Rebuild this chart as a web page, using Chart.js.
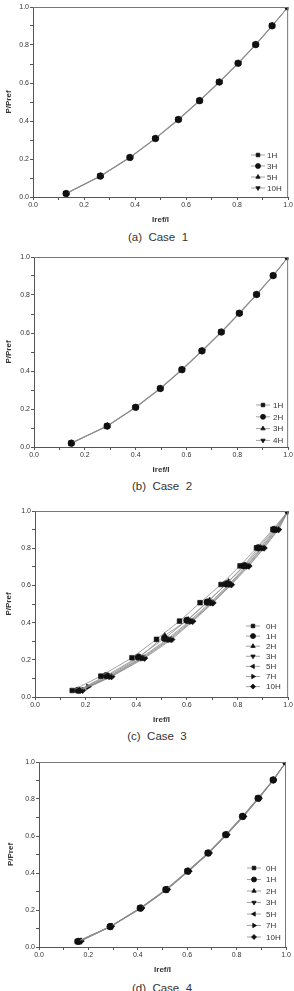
<!DOCTYPE html>
<html>
<head>
<meta charset="utf-8">
<script src="https://cdn.jsdelivr.net/npm/chart.js@4/dist/chart.umd.min.js"></script>
<style>
  body { margin: 0; background: #fff; width: 294px; height: 991px; overflow: hidden; position: relative; font-family: "Liberation Sans", Arial, sans-serif; }
  .panel { position: absolute; left: 0; }
  .caption { position: absolute; width: 130px; text-align: center; font-size: 11.5px; color: #333; line-height: 13px; }
</style>
</head>
<body>
<div class="panel" style="top:0px"><canvas id="c1" width="294" height="230"></canvas></div>
<div class="caption" style="top:231px;left:93px">(a)&nbsp; Case&nbsp; 1</div>
<div class="panel" style="top:250px"><canvas id="c2" width="294" height="230"></canvas></div>
<div class="caption" style="top:480px;left:97px">(b)&nbsp; Case&nbsp; 2</div>
<div class="panel" style="top:504px"><canvas id="c3" width="294" height="226"></canvas></div>
<div class="caption" style="top:730px;left:92px">(c)&nbsp; Case&nbsp; 3</div>
<div class="panel" style="top:755px"><canvas id="c4" width="294" height="225"></canvas></div>
<div class="caption" style="top:982px;left:97px">(d)&nbsp; Case&nbsp; 4</div>
<script>
// Case 1
const case1Labels = ['1H', '3H', '5H', '10H'];
const case1X = [
    [0.128, 0.262, 0.378, 0.478, 0.568, 0.651, 0.728, 0.802, 0.871, 0.936, 1.0],
    [0.130, 0.264, 0.380, 0.480, 0.570, 0.653, 0.730, 0.804, 0.873, 0.937, 1.0],
    [0.131, 0.266, 0.381, 0.481, 0.571, 0.654, 0.731, 0.805, 0.874, 0.938, 1.0],
    [0.133, 0.267, 0.383, 0.482, 0.572, 0.655, 0.732, 0.806, 0.874, 0.938, 1.0]
];
const case1Y = [
    [0.018, 0.110, 0.208, 0.308, 0.408, 0.507, 0.605, 0.704, 0.802, 0.901, 1.0],
    [0.018, 0.110, 0.208, 0.308, 0.408, 0.507, 0.605, 0.704, 0.802, 0.901, 1.0],
    [0.019, 0.111, 0.209, 0.309, 0.408, 0.507, 0.605, 0.704, 0.802, 0.901, 1.0],
    [0.019, 0.111, 0.209, 0.309, 0.408, 0.507, 0.605, 0.704, 0.802, 0.901, 1.0]
];

// Case 2
const case2Labels = ['1H', '2H', '3H', '4H'];
const case2X = [
    [0.145, 0.286, 0.398, 0.495, 0.580, 0.659, 0.735, 0.806, 0.874, 0.940, 1.0],
    [0.147, 0.288, 0.400, 0.497, 0.582, 0.661, 0.737, 0.808, 0.876, 0.941, 1.0],
    [0.148, 0.289, 0.401, 0.498, 0.583, 0.662, 0.738, 0.809, 0.877, 0.942, 1.0],
    [0.150, 0.290, 0.402, 0.499, 0.584, 0.663, 0.739, 0.810, 0.877, 0.942, 1.0]
];
const case2Y = [
    [0.020, 0.110, 0.209, 0.308, 0.407, 0.506, 0.605, 0.704, 0.803, 0.902, 1.0],
    [0.020, 0.110, 0.209, 0.308, 0.407, 0.506, 0.605, 0.704, 0.803, 0.902, 1.0],
    [0.021, 0.111, 0.209, 0.308, 0.407, 0.506, 0.605, 0.704, 0.803, 0.902, 1.0],
    [0.021, 0.111, 0.209, 0.308, 0.407, 0.506, 0.605, 0.704, 0.803, 0.902, 1.0]
];

// Case 3
const case3Labels = ['0H', '1H', '2H', '3H', '5H', '7H', '10H'];
const case3X = [
    [0.147, 0.260, 0.383, 0.480, 0.571, 0.652, 0.735, 0.810, 0.875, 0.940, 1.0],
    [0.170, 0.282, 0.408, 0.512, 0.600, 0.680, 0.755, 0.825, 0.882, 0.945, 1.0],
    [0.175, 0.287, 0.412, 0.512, 0.605, 0.690, 0.765, 0.830, 0.890, 0.950, 1.0],
    [0.178, 0.292, 0.418, 0.522, 0.610, 0.692, 0.766, 0.835, 0.895, 0.953, 1.0],
    [0.182, 0.296, 0.423, 0.528, 0.615, 0.697, 0.770, 0.838, 0.898, 0.956, 1.0],
    [0.210, 0.300, 0.428, 0.533, 0.620, 0.700, 0.773, 0.842, 0.902, 0.960, 1.0],
    [0.188, 0.303, 0.433, 0.540, 0.623, 0.703, 0.776, 0.845, 0.905, 0.962, 1.0]
];
const case3Y = [
    [0.035, 0.112, 0.211, 0.310, 0.408, 0.507, 0.605, 0.705, 0.802, 0.901, 1.0],
    [0.036, 0.115, 0.215, 0.315, 0.412, 0.510, 0.608, 0.706, 0.802, 0.901, 1.0],
    [0.037, 0.113, 0.212, 0.330, 0.415, 0.520, 0.620, 0.708, 0.803, 0.902, 1.0],
    [0.035, 0.111, 0.210, 0.310, 0.408, 0.507, 0.606, 0.705, 0.802, 0.901, 1.0],
    [0.036, 0.110, 0.210, 0.309, 0.407, 0.506, 0.605, 0.704, 0.802, 0.901, 1.0],
    [0.055, 0.110, 0.209, 0.309, 0.407, 0.506, 0.605, 0.704, 0.801, 0.900, 1.0],
    [0.036, 0.110, 0.209, 0.309, 0.407, 0.506, 0.604, 0.704, 0.801, 0.900, 1.0]
];

// Case 4
const case4Labels = ['0H', '1H', '2H', '3H', '5H', '7H', '10H'];
const case4X = [
    [0.155, 0.287, 0.408, 0.512, 0.600, 0.683, 0.755, 0.823, 0.886, 0.947, 1.0],
    [0.158, 0.288, 0.410, 0.514, 0.602, 0.684, 0.756, 0.824, 0.887, 0.948, 1.0],
    [0.160, 0.289, 0.411, 0.515, 0.603, 0.685, 0.757, 0.825, 0.888, 0.948, 1.0],
    [0.162, 0.290, 0.412, 0.516, 0.604, 0.686, 0.758, 0.826, 0.889, 0.949, 1.0],
    [0.164, 0.291, 0.413, 0.517, 0.605, 0.687, 0.759, 0.827, 0.889, 0.949, 1.0],
    [0.167, 0.292, 0.414, 0.518, 0.606, 0.688, 0.760, 0.828, 0.890, 0.950, 1.0],
    [0.170, 0.293, 0.416, 0.520, 0.607, 0.689, 0.761, 0.829, 0.891, 0.950, 1.0]
];
const case4Y = [
    [0.030, 0.110, 0.210, 0.310, 0.410, 0.508, 0.607, 0.706, 0.804, 0.903, 1.0],
    [0.030, 0.110, 0.210, 0.310, 0.410, 0.508, 0.607, 0.706, 0.804, 0.903, 1.0],
    [0.031, 0.111, 0.210, 0.310, 0.410, 0.508, 0.607, 0.706, 0.804, 0.903, 1.0],
    [0.031, 0.111, 0.211, 0.310, 0.410, 0.508, 0.607, 0.706, 0.804, 0.903, 1.0],
    [0.031, 0.111, 0.211, 0.311, 0.410, 0.508, 0.607, 0.706, 0.804, 0.903, 1.0],
    [0.032, 0.112, 0.211, 0.311, 0.410, 0.508, 0.607, 0.706, 0.804, 0.903, 1.0],
    [0.032, 0.112, 0.211, 0.311, 0.410, 0.508, 0.607, 0.706, 0.804, 0.903, 1.0]
];

// marker style for each series label (Origin defaults)
const markers = {
    '0H':  { style: 'rect', rot: 0 },
    '1H':  { style: 'circle', rot: 0 },
    '2H':  { style: 'triangle', rot: 0 },
    '3H':  { style: 'triangle', rot: 180 },
    '5H':  { style: 'triangle', rot: 270 },
    '7H':  { style: 'triangle', rot: 90 },
    '10H': { style: 'rectRot', rot: 0 }
};
// case 1 and 2 use the first four Origin symbols in order
const firstFour = [markers['0H'], markers['1H'], markers['2H'], markers['3H']];

const lineColor = '#8c8c8c';
const textColor = '#333';
const fontFamily = '"Liberation Sans", Arial, sans-serif';

// box around the plot + legend inside bottom-right corner
const framePlugin = {
    id: 'frame',
    afterDraw(chart, args, opts) {
        const ctx = chart.ctx;
        const a = chart.chartArea;
        ctx.save();
        ctx.strokeStyle = '#777';
        ctx.lineWidth = 1;
        ctx.beginPath();
        ctx.moveTo(a.left, a.top + 0.5);
        ctx.lineTo(a.right - 0.5, a.top + 0.5);
        ctx.lineTo(a.right - 0.5, a.bottom);
        ctx.stroke();

        // legend
        ctx.font = '8px ' + fontFamily;
        ctx.textBaseline = 'middle';
        chart.data.datasets.forEach((ds, i) => {
            const y = opts.y0 + i * opts.step;
            ctx.strokeStyle = lineColor;
            ctx.lineWidth = 0.8;
            ctx.beginPath();
            ctx.moveTo(opts.mx - 7, y);
            ctx.lineTo(opts.mx + 7, y);
            ctx.stroke();
            ctx.fillStyle = '#111';
            ctx.strokeStyle = '#111';
            Chart.helpers.drawPoint(ctx, { pointStyle: ds.pointStyle, rotation: ds.pointRotation, radius: 2.5, borderWidth: 0.5 }, opts.mx, y);
            ctx.fillStyle = textColor;
            ctx.fillText(ds.label, opts.tx, y + 0.5);
        });
        ctx.restore();
    }
};

function makeChart(id, labels, xs, ys, symbols, cfg) {
    const datasets = labels.map((lab, i) => ({
        label: lab,
        data: xs[i].map((x, j) => ({ x: x, y: ys[i][j] })),
        borderColor: lineColor,
        borderWidth: 0.8,
        pointStyle: symbols[i].style,
        pointRotation: symbols[i].rot,
        pointRadius: 3.3,
        pointBackgroundColor: '#111',
        pointBorderColor: '#111',
        pointBorderWidth: 0.6
    }));

    const evenOnly = v => (Math.round(v * 10) % 2 === 0 ? v.toFixed(1) : '');
    const tickFont = { family: fontFamily, size: 7 };
    const titleFont = { family: fontFamily, size: 8, weight: 'bold' };

    new Chart(document.getElementById(id), {
        type: 'scatter',
        data: { datasets: datasets },
        options: {
            responsive: false,
            animation: false,
            devicePixelRatio: 1,
            showLine: true,
            layout: { autoPadding: false, padding: { top: 7, right: cfg.padRight, left: 0, bottom: 0 } },
            plugins: { legend: { display: false }, tooltip: { enabled: false }, frame: cfg.legend },
            scales: {
                x: {
                    type: 'linear', min: 0, max: 1,
                    afterFit: s => { s.height = 33; },
                    ticks: { stepSize: 0.1, callback: evenOnly, font: tickFont, color: textColor, padding: 1, maxRotation: 0, autoSkip: false },
                    grid: { drawOnChartArea: false, drawTicks: true, tickLength: 3, color: '#555' },
                    border: { color: '#555' },
                    title: { display: true, text: 'Iref/I', font: titleFont, color: textColor, padding: { top: 0, bottom: 5 } }
                },
                y: {
                    type: 'linear', min: 0, max: 1,
                    afterFit: s => { s.width = cfg.left; },
                    ticks: { stepSize: 0.1, callback: evenOnly, font: tickFont, color: textColor, padding: 1, autoSkip: false },
                    grid: { drawOnChartArea: false, drawTicks: true, tickLength: 3, color: '#555' },
                    border: { color: '#555' },
                    title: { display: true, text: 'P/Pref', font: titleFont, color: textColor, padding: { top: cfg.titlePad, bottom: 0 } }
                }
            }
        },
        plugins: [framePlugin]
    });
}

const c3Symbols = case3Labels.map(l => markers[l]);
const c4Symbols = case4Labels.map(l => markers[l]);

makeChart('c1', case1Labels, case1X, case1Y, firstFour,
    { left: 33, padRight: 1, titlePad: 4, legend: { mx: 258, tx: 267, y0: 155, step: 11 } });
makeChart('c2', case2Labels, case2X, case2Y, firstFour,
    { left: 34, padRight: 5, titlePad: 4, legend: { mx: 263, tx: 273, y0: 155, step: 11.8 } });
makeChart('c3', case3Labels, case3X, case3Y, c3Symbols,
    { left: 35, padRight: 5, titlePad: 4, legend: { mx: 253, tx: 266, y0: 122, step: 10.1 } });
makeChart('c4', case4Labels, case4X, case4Y, c4Symbols,
    { left: 39, padRight: 8, titlePad: 6, legend: { mx: 254, tx: 266, y0: 113, step: 11.5 } });
</script>
</body>
</html>
